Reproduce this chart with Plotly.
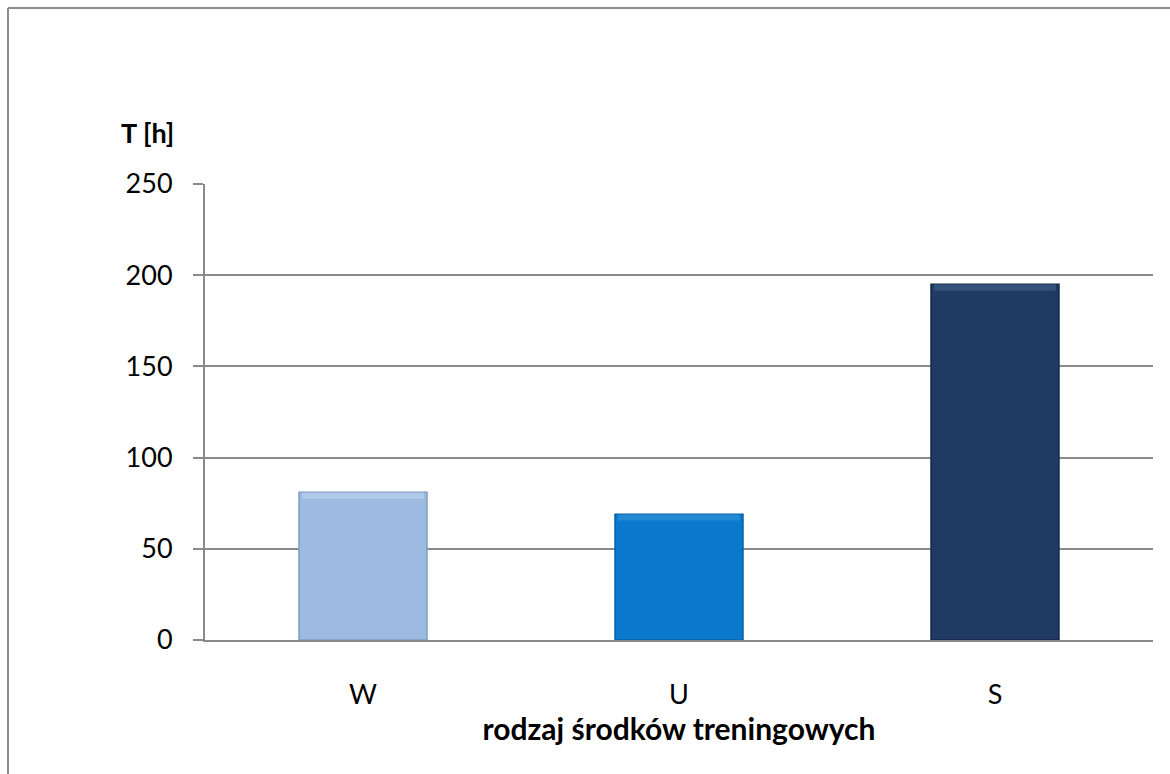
import plotly.graph_objects as go

# Training time by type of training means
categories = ["W", "U", "S"]
hours = [81, 69, 195]
bar_colors = ["#9dbbe1", "#0a78cd", "#1f3b63"]
edge_colors = ["#7f9cc4", "#0660a8", "#15294a"]
bevel_colors = ["#c4d8f0", "#3d9be0", "#4a6890"]
y_ticks = [0, 50, 100, 150, 200, 250]

W, H = 1170, 774
L, R, T, B = 205, 17, 184, 134
FONT = "Lato, Calibri, Carlito, sans-serif"
BAR_W = 0.405
BEVEL = 3.5

fig = go.Figure()
fig.add_trace(
    go.Bar(
        x=categories,
        y=hours,
        width=BAR_W,
        marker=dict(color=bar_colors, line=dict(color=edge_colors, width=1.5)),
        hoverinfo="x+y",
    )
)
# light bevel strip along the top edge of each bar
fig.add_trace(
    go.Bar(
        x=categories,
        y=[BEVEL] * len(hours),
        base=[h - BEVEL for h in hours],
        width=BAR_W - 0.02,
        marker=dict(color=bevel_colors, opacity=0.5, line=dict(width=0)),
        hoverinfo="skip",
    )
)


def px(x):
    return (x - L) / (W - L - R)


def py(y):
    return 1 - (y - T) / (H - T - B)


frame = dict(color="#8c8c8c", width=2)

fig.update_layout(
    width=W,
    height=H,
    margin=dict(l=L, r=R, t=T, b=B),
    paper_bgcolor="white",
    plot_bgcolor="white",
    showlegend=False,
    barmode="overlay",
    font=dict(family=FONT, size=27, color="black"),
    xaxis=dict(
        showline=True,
        linecolor="#8a8a8a",
        linewidth=2,
        ticks="",
        tickfont=dict(size=27),
        ticklabelstandoff=30,
        title=dict(text="<b>rodzaj środków treningowych</b>", font=dict(size=30), standoff=8),
    ),
    yaxis=dict(
        range=[0, 250],
        tickvals=y_ticks,
        showgrid=True,
        gridcolor="#8a8a8a",
        gridwidth=2,
        zeroline=False,
        showline=True,
        linecolor="#8a8a8a",
        linewidth=2,
        ticks="outside",
        ticklen=10,
        tickwidth=2,
        tickcolor="#8a8a8a",
        tickfont=dict(size=27),
        ticklabelstandoff=15,
    ),
    annotations=[
        dict(
            text="<b>T [h]</b>",
            xref="paper",
            yref="paper",
            x=px(176),
            y=py(133),
            xanchor="right",
            yanchor="middle",
            showarrow=False,
            font=dict(size=27),
        )
    ],
    shapes=[
        # outer chart frame: top and left edges
        dict(type="line", xref="paper", yref="paper",
             x0=px(8), x1=px(1170), y0=py(8), y1=py(8), line=frame),
        dict(type="line", xref="paper", yref="paper",
             x0=px(8), x1=px(8), y0=py(8), y1=py(774), line=frame),
    ],
)

fig.write_html("out.html")
